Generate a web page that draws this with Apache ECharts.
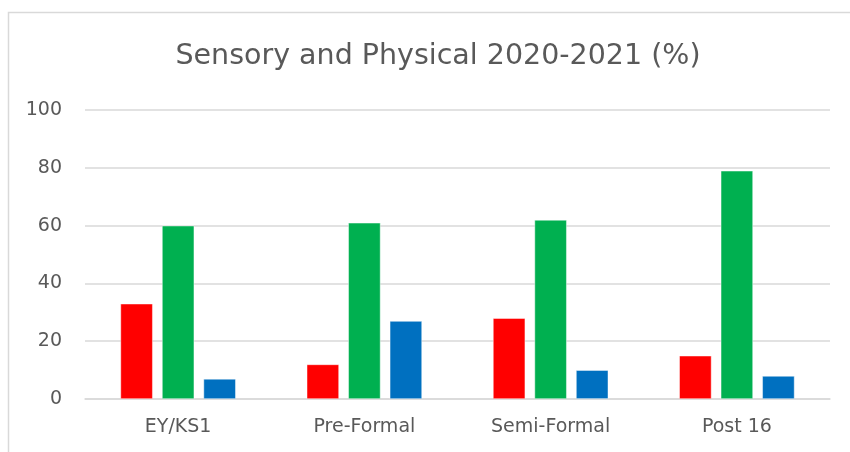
<!DOCTYPE html>
<html><head><meta charset="utf-8">
<script src="https://cdn.jsdelivr.net/npm/echarts@6/dist/echarts.min.js"></script>
<style>html,body{margin:0;padding:0;background:#fff}#c{width:850px;height:452px}</style>
</head><body><div id="c"></div>
<script>
const title = 'Sensory and Physical 2020-2021 (%)';
const categories = ['EY/KS1', 'Pre-Formal', 'Semi-Formal', 'Post 16'];
const seriesRed = [33, 12, 28, 15];
const seriesGreen = [60, 61, 62, 79];
const seriesBlue = [7, 27, 10, 8];
const colors = ['#FF0000', '#00B050', '#0070C0'];
const font = '"DejaVu Sans", "Open Sans", sans-serif';

const chart = echarts.init(document.getElementById('c'), null, {renderer: 'canvas'});
const mk = (data, color) => ({
  type: 'bar', data, barGap: '28%', barCategoryGap: '38%',
  itemStyle: {color, borderColor: 'rgba(255,255,255,0.6)', borderWidth: 0.75},
  animation: false
});
chart.setOption({
  animation: false,
  backgroundColor: '#fff',
  graphic: [{type: 'rect', shape: {x: 8.5, y: 12.5, width: 900, height: 500},
    style: {fill: 'none', stroke: '#d9d9d9', lineWidth: 1.5}, silent: true}],
  title: {text: title, left: 433, top: 37, textAlign: 'center',
    textStyle: {fontFamily: font, fontSize: 28.5, fontWeight: 'normal', color: '#595959'}},
  grid: {left: 85, right: 20, top: 110, bottom: 53, containLabel: false},
  xAxis: {type: 'category', data: categories,
    axisLine: {show: true, lineStyle: {color: '#d9d9d9', width: 1.5}},
    axisTick: {show: false},
    axisLabel: {fontFamily: font, fontSize: 19, color: '#595959', margin: 19}},
  yAxis: {type: 'value', min: 0, max: 100, interval: 20,
    axisLine: {show: false}, axisTick: {show: false},
    splitLine: {lineStyle: {color: '#d9d9d9', width: 1.5}},
    axisLabel: {fontFamily: font, fontSize: 19, color: '#595959', margin: 23}},
  series: [mk(seriesRed, colors[0]), mk(seriesGreen, colors[1]), mk(seriesBlue, colors[2])]
});
</script></body></html>
